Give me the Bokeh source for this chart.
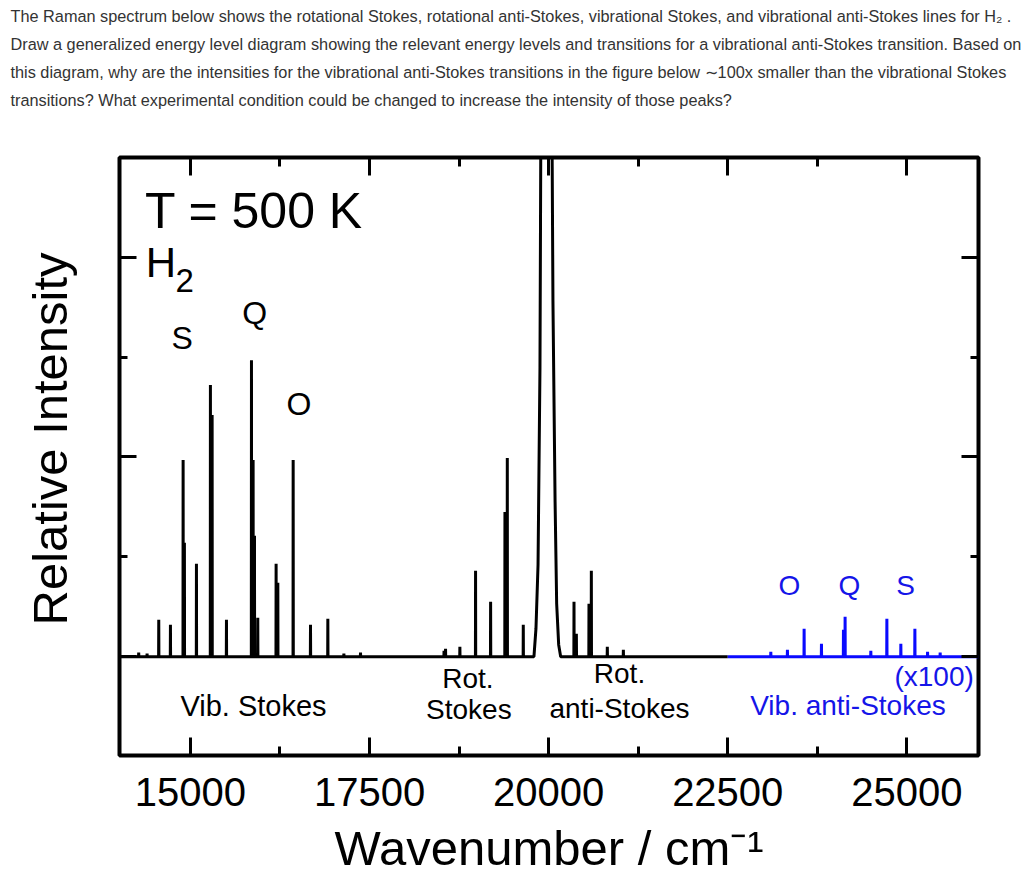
from bokeh.plotting import figure
from bokeh.models import Label, LinearAxis, FixedTicker, Title
from bokeh.embed import file_html
from bokeh.resources import INLINE

FONT = "Liberation Sans"

# ---- spectrum values (wavenumber in cm^-1, relative intensity) ----
vib_stokes_wn = [14278, 14395, 14558, 14721, 14898, 14916, 15084, 15279, 15303,
                 15503, 15852, 15875, 15894, 15940, 16196, 16220, 16434, 16676,
                 16918, 17142, 17374]
vib_stokes_int = [0.04, 0.03, 0.37, 0.32, 1.97, 1.14, 0.93, 2.72, 2.42,
                  0.37, 2.97, 1.97, 1.21, 0.39, 0.93, 0.74, 1.97, 0.32,
                  0.38, 0.03, 0.04]

rot_stokes_wn = [18540, 18561, 18761, 18980, 19190, 19390, 19423, 19646]
rot_stokes_int = [0.06, 0.08, 0.10, 0.86, 0.55, 1.45, 1.99, 0.32]

rayleigh_wn = [19795, 19823, 19852, 19879, 19905, 19980, 20050, 20060, 20090,
               20112, 20140, 20168]
rayleigh_int = [0.0, 0.28, 0.92, 2.9, 8.0, 12.0, 4.9, 3.57, 1.55,
                0.53, 0.12, 0.0]

rot_anti_wn = [20354, 20387, 20563, 20596, 20819, 21043]
rot_anti_int = [0.55, 0.23, 0.53, 0.86, 0.10, 0.07]

# vibrational anti-Stokes, already multiplied by 100
vib_anti_wn = [23101, 23333, 23566, 23808, 24115, 24138, 24497, 24721, 24916,
               25112, 25289, 25465]
vib_anti_int = [0.05, 0.07, 0.28, 0.13, 0.27, 0.40, 0.06, 0.38, 0.13,
                0.28, 0.05, 0.04]

x_ticks = [15000, 17500, 20000, 22500, 25000]
x_minor = [16250, 18750, 21250, 23750]
y_ticks = [0, 2, 4]
y_minor = [1, 3]

X_START, X_SPLIT, X_END = 14010, 22500, 26000


def spectrum_path(spikes, profile=(), start=None, end=None, half=2.0):
    """Line path with narrow spikes for each (wn, int) pair plus an optional
    measured profile, sitting on a zero baseline."""
    pts = []
    for w, h in spikes:
        pts += [(w - half, 0.0), (w, h), (w + half, 0.0)]
    pts += list(profile)
    pts.sort(key=lambda t: t[0])
    if start is not None:
        pts.insert(0, (start, 0.0))
    if end is not None:
        pts.append((end, 0.0))
    return [p[0] for p in pts], [p[1] for p in pts]


black_spikes = (list(zip(vib_stokes_wn, vib_stokes_int))
                + list(zip(rot_stokes_wn, rot_stokes_int))
                + list(zip(rot_anti_wn, rot_anti_int)))
bx, by = spectrum_path(black_spikes, zip(rayleigh_wn, rayleigh_int),
                       start=X_START, end=X_SPLIT)
ax_, ay_ = spectrum_path(list(zip(vib_anti_wn, vib_anti_int)),
                         start=X_SPLIT, end=X_END)

p = figure(width=1024, height=884, x_range=(X_START, X_END), y_range=(-0.99, 5.0),
           output_backend="svg", toolbar_location=None,
           min_border_left=119, min_border_right=46,
           min_border_top=157, min_border_bottom=129,
           x_axis_type=None, y_axis_type=None)
p.grid.visible = False
p.background_fill_color = "white"
p.border_fill_color = "white"
p.outline_line_color = "black"
p.outline_line_width = 4


def style_axis(axis, ticker, major_in, minor_in, labels, standoff=5):
    axis.ticker = ticker
    axis.axis_line_color = None
    axis.major_tick_in = major_in
    axis.major_tick_out = 0
    axis.minor_tick_in = minor_in
    axis.minor_tick_out = 0
    axis.major_tick_line_width = 3
    axis.minor_tick_line_width = 3
    axis.major_tick_line_color = "black"
    axis.minor_tick_line_color = "black"
    axis.major_label_standoff = standoff
    if labels:
        axis.major_label_text_font = FONT
        axis.major_label_text_font_size = "40px"
        axis.major_label_text_color = "black"
    else:
        axis.major_label_text_font_size = "1px"
        axis.major_label_text_color = None


xt = FixedTicker(ticks=x_ticks, minor_ticks=x_minor)
yt = FixedTicker(ticks=y_ticks, minor_ticks=y_minor)

bottom = LinearAxis(axis_label="Wavenumber / cm\u207b\u00b9")
style_axis(bottom, xt, 18, 9, True, 22)
bottom.axis_label_text_font = FONT
bottom.axis_label_text_font_size = "49px"
bottom.axis_label_text_font_style = "normal"
bottom.axis_label_text_color = "black"
bottom.axis_label_standoff = 12
p.add_layout(bottom, "below")

top = LinearAxis()
style_axis(top, xt, 18, 9, False)
p.add_layout(top, "above")

left = LinearAxis()
style_axis(left, yt, 17, 8, False)
p.add_layout(left, "left")

right = LinearAxis()
style_axis(right, yt, 17, 8, False)
p.add_layout(right, "right")


def gap(size, side):
    """Empty panel that keeps the next title away from the frame."""
    p.add_layout(Title(text="\u00a0", text_font_size="1px", standoff=size), side)


# y title, placed beside the left axis
gap(37, "left")
p.add_layout(Title(text="Relative Intensity", text_font=FONT, text_font_size="49px",
                   text_font_style="normal", text_color="black", align="left",
                   offset=130, vertical_align="bottom", standoff=5), "left")

# question text above the chart (first added sits closest to the plot)
question = [
    "The Raman spectrum below shows the rotational Stokes, rotational anti-Stokes, "
    "vibrational Stokes, and vibrational anti-Stokes lines for H\u2082 .",
    "Draw a generalized energy level diagram showing the relevant energy levels and "
    "transitions for a vibrational anti-Stokes transition. Based on",
    "this diagram, why are the intensities for the vibrational anti-Stokes transitions "
    "in the figure below \u223c100x smaller than the vibrational Stokes",
    "transitions? What experimental condition could be changed to increase the "
    "intensity of those peaks?",
]
gap(42, "above")
for line in reversed(question):
    p.add_layout(Title(text=line, text_font=FONT, text_font_size="16.3px",
                       text_font_style="normal", text_color="#333333",
                       align="left", offset=-109, vertical_align="bottom",
                       standoff=8), "above")

# spectrum
p.line(bx, by, line_color="black", line_width=3, line_join="bevel")
p.line(ax_, ay_, line_color="#0a0aff", line_width=3, line_join="bevel")


def lab(text, x, y, size, color="black", align="left"):
    p.add_layout(Label(x=x, y=y, text=text, text_font=FONT,
                       text_font_size=size, text_color=color,
                       text_align=align, text_baseline="alphabetic"))


BLUE = "#1515e8"

# annotations inside the frame
lab("T = 500 K", 14365, 4.46, "50px")
lab("H", 14378, 3.95, "42px")
lab("2", 14790, 3.77, "33px")
lab("S", 14885, 3.19, "32px", align="center")
lab("Q", 15897, 3.44, "32px", align="center")
lab("O", 16513, 2.53, "32px", align="center")

lab("Vib. Stokes", 15880, -0.497, "29px", align="center")
lab("Rot.", 18874, -0.215, "28px", align="center")
lab("Stokes", 18886, -0.53, "28px", align="center")
lab("Rot.", 20989, -0.17, "28px", align="center")
lab("anti-Stokes", 20989, -0.515, "28px", align="center")

lab("O", 23362, 0.717, "28px", color=BLUE, align="center")
lab("Q", 24199, 0.717, "28px", color=BLUE, align="center")
lab("S", 24981, 0.717, "28px", color=BLUE, align="center")
lab("(x100)", 25934, -0.195, "28px", color=BLUE, align="right")
lab("Vib. anti-Stokes", 24178, -0.485, "28px", color=BLUE, align="center")

open("out.html", "w").write(file_html(p, INLINE))
